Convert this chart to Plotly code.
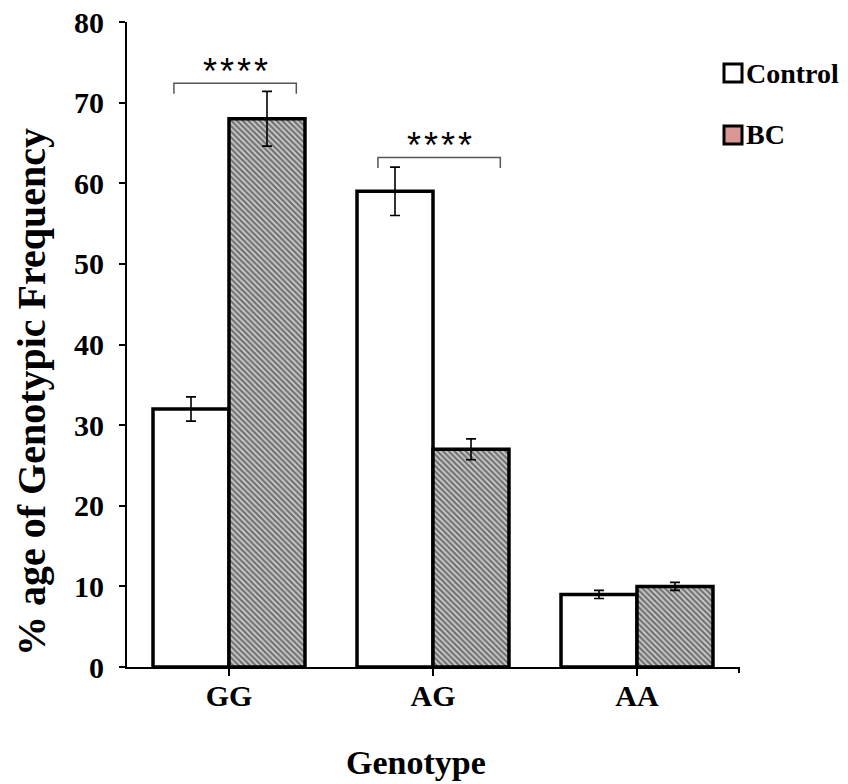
import plotly.graph_objects as go

categories = ["GG", "AG", "AA"]
control_vals = [32, 59, 9]
control_err = [1.5, 3.0, 0.5]
bc_vals = [68, 27, 10]
bc_err = [3.4, 1.3, 0.5]
series_names = ["Control", "BC"]
legend_colors = ["white", "#d99694"]
sig_labels = ["*\u200a*\u200a*\u200a*", "*\u200a*\u200a*\u200a*"]
sig_cats = [0, 1]
sig_bracket_y = [72.4, 63.2]
y_ticks = [0, 10, 20, 30, 40, 50, 60, 70, 80]

FONT = "Liberation Serif, Times New Roman, serif"
W, H = 848, 784
L, R, T, B = 127, 109, 22, 117
PW, PH = W - L - R, H - T - B


def px_x(sx):
    return (sx - L) / PW


def px_y(sy):
    return (H - B - sy) / PH


fig = go.Figure()
fig.add_trace(go.Bar(
    x=categories, y=control_vals, name=series_names[0], showlegend=False,
    marker=dict(color="white", line=dict(color="black", width=3.5)),
    error_y=dict(type="data", array=control_err, color="black", thickness=1.6, width=5),
))
fig.add_trace(go.Bar(
    x=categories, y=bc_vals, name=series_names[1], showlegend=False,
    marker=dict(color="#8a8a8a", line=dict(color="black", width=3.5),
                pattern=dict(shape="\\", fgcolor="#111111", bgcolor="#d0d0d0", size=4, solidity=0.55)),
    error_y=dict(type="data", array=bc_err, color="black", thickness=1.6, width=5),
))

shapes = []
annotations = []
for ci, lab, yb in zip(sig_cats, sig_labels, sig_bracket_y):
    x0 = ci - 0.27
    x1 = ci + 0.33
    shapes.append(dict(type="path", xref="x", yref="y",
                       path=f"M {x0},{yb-1.3} L {x0},{yb} L {x1},{yb} L {x1},{yb-1.3}",
                       line=dict(color="#555555", width=1.5)))
    annotations.append(dict(x=(x0 + x1) / 2, y=yb - 1.3, xref="x", yref="y", text=lab,
                            showarrow=False, yanchor="bottom",
                            font=dict(family="Liberation Sans, Arial", size=36, color="black")))

# right-end tick on x axis
shapes.append(dict(type="line", xref="paper", yref="paper", x0=1, x1=1, y0=0, y1=-6 / PH,
                   line=dict(color="black", width=2)))

# manual legend
leg_centers = [73, 135]
for name, col, cy in zip(series_names, legend_colors, leg_centers):
    shapes.append(dict(type="rect", xref="paper", yref="paper",
                       x0=px_x(724), x1=px_x(742), y0=px_y(cy + 9), y1=px_y(cy - 9),
                       fillcolor=col, line=dict(color="black", width=3)))
    annotations.append(dict(x=px_x(744), y=px_y(cy), xref="paper", yref="paper", text=f"<b>{name}</b>",
                            showarrow=False, xanchor="left", yanchor="middle",
                            font=dict(family=FONT, size=28, color="black")))

# axis titles
annotations.append(dict(x=px_x(31), y=px_y(392), xref="paper", yref="paper",
                        text="<b>% age of Genotypic Frequency</b>", textangle=-90, showarrow=False,
                        xanchor="center", yanchor="middle",
                        font=dict(family=FONT, size=40, color="black")))
annotations.append(dict(x=px_x(416), y=px_y(762), xref="paper", yref="paper",
                        text="<b>Genotype</b>", showarrow=False,
                        xanchor="center", yanchor="middle",
                        font=dict(family=FONT, size=34, color="black")))

fig.update_layout(
    width=W, height=H,
    margin=dict(l=L, r=R, t=T, b=B),
    paper_bgcolor="white", plot_bgcolor="white",
    barmode="group", bargap=0.255, bargroupgap=0,
    font=dict(family=FONT, color="black"),
    showlegend=False,
    shapes=shapes, annotations=annotations,
    xaxis=dict(showline=True, linecolor="black", linewidth=2, ticks="outside", ticklen=7,
               tickwidth=2, tickcolor="black", showgrid=False, automargin=False,
               ticklabelstandoff=-6, ticklabeloverflow="allow",
               tickfont=dict(family=FONT, size=30, weight="bold")),
    yaxis=dict(range=[0, 80], tickvals=y_ticks, showline=True, linecolor="black", linewidth=2,
               ticks="outside", ticklen=6, tickwidth=2, tickcolor="black", showgrid=False, zeroline=False,
               automargin=False, ticklabelstandoff=9, ticklabeloverflow="allow",
               tickfont=dict(family=FONT, size=30, weight="bold")),
)
fig.write_html("out.html", config={"displayModeBar": False},
               post_script="document.body.style.margin='0px';document.body.style.overflow='hidden';")
